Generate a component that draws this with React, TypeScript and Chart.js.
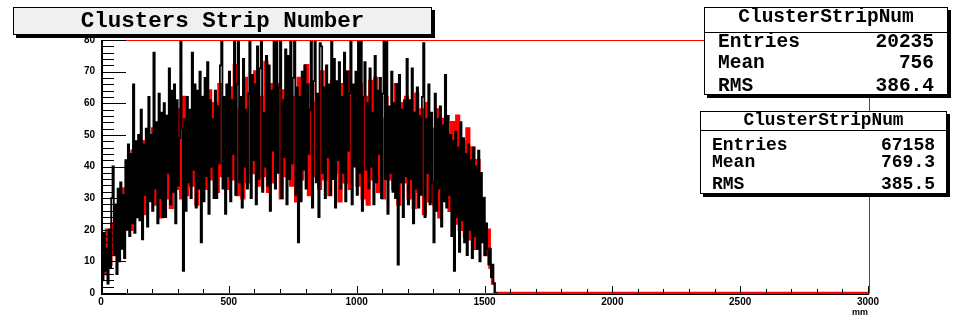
import React, { useEffect, useRef } from "react";
import { Chart, registerables } from "chart.js";

Chart.register(...registerables);

// Histogram binning (mm) and axis ranges
const X_MIN = 0;
const X_MAX = 3000;
const Y_MIN = 0;
const Y_MAX = 80;
const X_TICK_STEP = 500;
const Y_TICK_STEP = 10;
const BLACK_BIN = 5;
const RED_BIN = 10;

// Cluster strip counts per 5 mm bin, split by region of the strip
const blackRise = [
  5, 16, 4, 19, 7, 14, 3, 20, 8, 30,
  40, 12, 28, 6, 33, 10, 35, 14, 31, 11,
  42, 20, 47, 18, 44, 22, 66, 19, 48, 24,
  50, 23, 58, 17, 47, 31, 52, 21, 62, 29,
  50, 26, 76, 33, 54, 22, 63, 30, 57, 24,
  60, 24, 56, 38, 71, 28, 64, 32, 66, 22,
  61, 34, 49, 84, 52, 7, 55, 26, 62, 35,
  58, 30, 76, 39, 66, 27, 64, 33, 70, 16,
  62, 29, 68, 37, 73, 25, 61, 40, 55, 30,
];
const blackPlateau = [
  64, 30, 59, 41, 72, 84, 33, 62, 25, 66,
  37, 70, 29, 61, 44, 84, 31, 66, 84, 35,
  62, 27, 74, 40, 58, 33, 63, 84, 30, 69,
  42, 66, 28, 78, 36, 71, 84, 32, 57, 40,
  75, 34, 72, 26, 64, 45, 80, 33, 84, 38,
  65, 84, 30, 61, 43, 77, 28, 75, 36, 84,
  41, 68, 84, 31, 65, 16, 62, 29, 70, 39,
  72, 33, 66, 44, 58, 84, 27, 67, 84, 35,
  63, 24, 79, 78, 38, 65, 30, 72, 43, 66,
  31, 84, 36, 74, 27, 67, 42, 73, 33, 62,
  38, 76, 29, 70, 45, 63, 80, 28, 66, 40,
  70, 31, 84, 38, 84, 26, 62, 73, 39, 60,
  33, 71, 40, 57, 28, 75, 35, 64, 44, 68,
  30, 63, 84, 36, 84, 25, 59, 38, 70, 32,
];
const blackFall = [
  60, 30, 66, 9, 69, 35, 58, 24, 61, 37,
  74, 28, 61, 36, 71, 22, 57, 33, 65, 27,
  56, 31, 62, 79, 24, 55, 38, 66, 28, 57,
  35, 16, 63, 26, 55, 33, 59, 21, 53, 29,
  69, 27, 56, 31, 50, 18, 48, 7, 51, 24,
  46, 13, 54, 23, 49, 16, 44, 12, 47, 20,
  42, 11, 46, 18, 40, 14, 45, 10, 38, 16,
  30, 12, 22, 14, 9, 14, 5, 9, 3, 0,
];

// Second histogram, counts per 10 mm bin, split the same way
const redRise = [
  3, 16, 6, 20, 9, 22, 12, 25, 18, 33,
  22, 41, 20, 45, 24, 38, 26, 48, 25, 44,
  30, 52, 28, 46, 24, 50, 30, 56, 27, 54,
  33, 58, 30, 62, 31, 57, 34, 60, 28, 55,
  35, 62, 33, 64, 36, 60, 32, 66, 37, 58,
];
const redPlateau = [
  33, 65, 36, 72, 31, 58, 30, 68, 35, 63,
  38, 70, 34, 62, 37, 73, 32, 66, 35, 58,
  66, 30, 64, 37, 70, 34, 62, 29, 68, 36,
  50, 72, 31, 66, 37, 60, 33, 70, 36, 64,
  31, 67, 38, 63, 29, 66, 35, 70, 33, 62,
  60, 34, 66, 30, 62, 28, 67, 36, 68, 32,
];
const redFall = [
  55, 30, 62, 36, 58, 33, 66, 28, 60, 35,
  62, 30, 57, 27, 63, 32, 58, 25, 60, 29,
  52, 28, 58, 24, 55, 30, 50, 26, 54, 22,
  56, 20, 48, 18, 52, 17, 46, 14, 42, 19,
  30, 12, 20, 8, 3,
];

const blackCounts = [...blackRise, ...blackPlateau, ...blackFall];
const redCounts = [...redRise, ...redPlateau, ...redFall];

const statLabels = ["Entries", "Mean", "RMS"];
const statsFirst = ["20235", "756", "386.4"];
const statsSecond = ["67158", "769.3", "385.5"];
const statTitle = "ClusterStripNum";
const chartTitle = "Clusters Strip Number";
const xUnit = "mm";

const MONO = '"Liberation Mono", "Courier New", monospace';
const SANS = '"Liberation Sans", Arial, Helvetica, sans-serif';

// Turn per-bin counts into step-line points (low edge of each bin)
function binsToPoints(counts: number[], width: number, tailTo?: number) {
  const pts = counts.map((c, i) => ({ x: i * width, y: c }));
  const end = counts.length * width;
  pts.push({ x: end, y: 0 });
  if (tailTo !== undefined) pts.push({ x: tailTo, y: 0 });
  return pts;
}

// ROOT-style frame: red pad frame, black left axis, inward ticks
const rootFrame = {
  id: "rootFrame",
  afterDatasetsDraw(chart: any) {
    const { ctx, chartArea, scales } = chart;
    const { left, right, top, bottom } = chartArea;
    const xs = scales.x;
    const ys = scales.y;
    ctx.save();
    ctx.lineWidth = 1;
    ctx.strokeStyle = "#ff0000";
    ctx.beginPath();
    ctx.moveTo(left, top + 0.5);
    ctx.lineTo(right + 1.5, top + 0.5);
    ctx.lineTo(right + 1.5, bottom + 0.5);
    ctx.lineTo(left, bottom + 0.5);
    ctx.stroke();

    ctx.strokeStyle = "#000000";
    ctx.beginPath();
    ctx.moveTo(left, bottom + 1.5);
    ctx.lineTo(right + 1, bottom + 1.5);
    ctx.stroke();

    ctx.lineWidth = 2;
    ctx.beginPath();
    ctx.moveTo(left + 1, top);
    ctx.lineTo(left + 1, bottom + 2);
    ctx.stroke();

    ctx.lineWidth = 1;
    ctx.beginPath();
    for (let v = Y_MIN; v <= Y_MAX; v += 2) {
      const py = Math.round(ys.getPixelForValue(v)) + 0.5;
      const len = v % Y_TICK_STEP === 0 ? 24 : 12;
      ctx.moveTo(left + 1, py);
      ctx.lineTo(left + 1 + len, py);
    }
    for (let v = X_MIN; v <= X_MAX; v += 100) {
      const px = Math.round(xs.getPixelForValue(v)) + 0.5;
      const len = v % X_TICK_STEP === 0 ? 7 : 4;
      ctx.moveTo(px, bottom);
      ctx.lineTo(px, bottom - len);
    }
    ctx.stroke();
    ctx.restore();
  },
};

type StatRow = { label: string; value: string; baseline: number };

function StatBox(props: {
  left: number;
  top: number;
  width: number;
  height: number;
  sepY: number;
  headerSize: number;
  headerBase: number;
  rowSize: number;
  rows: StatRow[];
  inset: number;
}) {
  const { left, top, width, height, sepY, headerSize, headerBase, rowSize, rows, inset } = props;
  const toTop = (base: number, size: number) => base - top - 1 - 0.7665 * size;
  const text: React.CSSProperties = {
    position: "absolute",
    fontFamily: MONO,
    fontWeight: "bold",
    lineHeight: 1,
    whiteSpace: "pre",
    color: "#000",
  };
  return (
    <div
      style={{
        position: "absolute",
        left,
        top,
        width,
        height,
        boxSizing: "border-box",
        border: "1px solid #000",
        background: "#fff",
        boxShadow: "3px 3px 0 #000",
      }}
    >
      <div
        style={{
          ...text,
          left: 0,
          right: 0,
          textAlign: "center",
          fontSize: headerSize,
          top: toTop(headerBase, headerSize),
        }}
      >
        {statTitle}
      </div>
      <div
        style={{
          position: "absolute",
          left: 0,
          right: 0,
          top: sepY - top - 1,
          height: 1,
          background: "#000",
        }}
      />
      {rows.map((r) => (
        <React.Fragment key={r.label}>
          <div style={{ ...text, left: inset, fontSize: rowSize, top: toTop(r.baseline, rowSize) }}>
            {r.label}
          </div>
          <div style={{ ...text, right: inset, fontSize: rowSize, top: toTop(r.baseline, rowSize) }}>
            {r.value}
          </div>
        </React.Fragment>
      ))}
    </div>
  );
}

export default function App() {
  const canvasRef = useRef<HTMLCanvasElement | null>(null);

  useEffect(() => {
    const canvas = canvasRef.current;
    if (!canvas) return;
    const tickFont = { family: SANS, size: 10, weight: "bold" as const };
    const chart = new Chart(canvas, {
      type: "line",
      data: {
        datasets: [
          {
            label: "ClusterStripNum (67158)",
            data: binsToPoints(blackCounts, BLACK_BIN),
            borderColor: "#000000",
            borderWidth: 1.8,
            stepped: "after",
            pointRadius: 0,
            fill: false,
            order: 0,
          },
          {
            label: "ClusterStripNum (20235)",
            data: binsToPoints(redCounts, RED_BIN, X_MAX),
            borderColor: "#ff0000",
            borderWidth: 2.6,
            stepped: "after",
            pointRadius: 0,
            fill: false,
            order: 1,
          },
        ],
      },
      options: {
        animation: false,
        responsive: false,
        devicePixelRatio: 1,
        events: [],
        layout: { padding: { left: 0, right: 88, top: 40, bottom: 0 } },
        plugins: { legend: { display: false }, tooltip: { enabled: false } },
        scales: {
          x: {
            type: "linear",
            min: X_MIN,
            max: X_MAX,
            grid: { display: false, drawTicks: false },
            border: { display: false },
            ticks: {
              stepSize: X_TICK_STEP,
              autoSkip: false,
              maxRotation: 0,
              padding: 3,
              color: "#000",
              font: tickFont,
              callback: (v: any) => String(v),
            },
            title: {
              display: true,
              text: xUnit,
              align: "end",
              color: "#000",
              font: { family: SANS, size: 9, weight: "bold" },
              padding: { top: 0, bottom: 2 },
            },
            afterFit: (s: any) => {
              s.height = 27;
            },
          },
          y: {
            type: "linear",
            min: Y_MIN,
            max: Y_MAX,
            grid: { display: false, drawTicks: false },
            border: { display: false },
            ticks: {
              stepSize: Y_TICK_STEP,
              padding: 6,
              color: "#000",
              font: tickFont,
              callback: (v: any) => String(v),
            },
            afterFit: (s: any) => {
              s.width = 101;
            },
          },
        },
      },
      plugins: [rootFrame],
    });
    return () => chart.destroy();
  }, []);

  return (
    <div
      style={{
        position: "fixed",
        left: 0,
        top: 0,
        width: 956,
        height: 320,
        background: "#fff",
        overflow: "hidden",
      }}
    >
      <canvas
        ref={canvasRef}
        width={956}
        height={320}
        style={{ position: "absolute", left: 0, top: 0, width: 956, height: 320 }}
      />
      <div
        style={{
          position: "absolute",
          left: 13,
          top: 7,
          width: 419,
          height: 28,
          boxSizing: "border-box",
          border: "1px solid #000",
          background: "#f0f0f0",
          boxShadow: "3px 3px 0 #000",
          fontFamily: MONO,
          fontWeight: "bold",
          fontSize: 22.5,
          lineHeight: "26px",
          textAlign: "center",
          whiteSpace: "pre",
        }}
      >
        {chartTitle}
      </div>
      <StatBox
        left={704}
        top={7}
        width={244}
        height={88}
        sepY={32}
        headerSize={19.5}
        headerBase={22.7}
        rowSize={19.5}
        inset={13}
        rows={statLabels.map((l, i) => ({ label: l, value: statsFirst[i], baseline: [47.7, 69.3, 91.7][i] }))}
      />
      <StatBox
        left={700}
        top={111}
        width={247}
        height={83}
        sepY={130}
        headerSize={17.8}
        headerBase={125.5}
        rowSize={18}
        inset={11}
        rows={statLabels.map((l, i) => ({ label: l, value: statsSecond[i], baseline: [150, 167, 189][i] }))}
      />
    </div>
  );
}
